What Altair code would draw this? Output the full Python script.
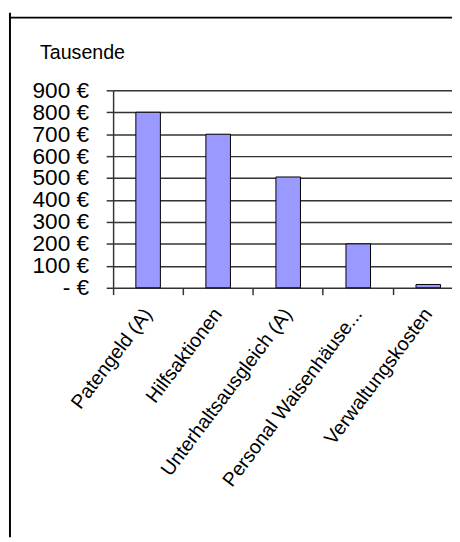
import altair as alt
import pandas as pd

categories = ["Patengeld (A)", "Hilfsaktionen", "Unterhaltsausgleich (A)",
              "Personal Waisenhäuse...", "Verwaltungskosten"]
values = [800, 700, 505, 200, 15]
y_ticks = [0, 100, 200, 300, 400, 500, 600, 700, 800, 900]

df = pd.DataFrame({"Kategorie": categories, "Wert": values})

FONT = "Liberation Sans"
LINE = "#333333"

bars = alt.Chart(df).mark_bar(size=25, fill="#9999FF", stroke="black", strokeWidth=1).encode(
    x=alt.X("Kategorie:N", sort=categories,
            scale=alt.Scale(range=[0, 356.5], paddingInner=0, paddingOuter=0),
            axis=alt.Axis(title=None, bandPosition=0, labelAngle=-53,
                          labelAlign="right", labelBaseline="middle", labelPadding=16,
                          tickSize=7, tickColor=LINE, tickWidth=1.5, domain=False, grid=False,
                          labelFont=FONT, labelFontSize=20, labelColor="black",
                          labelLimit=400, labelOverlap=False, labelBound=False)),
    y=alt.Y("Wert:Q", scale=alt.Scale(domain=[0, 900], nice=False, zero=True),
            axis=alt.Axis(values=y_ticks,
                          labelExpr="datum.value == 0 ? '- €' : datum.value + ' €'",
                          labelFont=FONT, labelFontSize=23, labelColor="black",
                          labelPadding=18, labelOverlap=False, labelFlush=False,
                          tickSize=7, tickColor=LINE, tickWidth=1.5,
                          domainColor=LINE, domainWidth=1.5,
                          grid=True, gridColor=LINE, gridWidth=1.5,
                          title="Tausende", titleAngle=0, titleX=-75, titleY=-32,
                          titleAlign="left", titleBaseline="alphabetic",
                          titleFont=FONT, titleFontSize=20, titleFontWeight="normal",
                          titleColor="black"))
)

one = pd.DataFrame({"k": [0]})
vline = alt.Chart(one).mark_rule(color="black", strokeWidth=2).encode(
    x=alt.value(-105), y=alt.value(-79), y2=alt.value(455))
hline = alt.Chart(one).mark_rule(color="black", strokeWidth=2).encode(
    x=alt.value(-105), x2=alt.value(345), y=alt.value(-74))

chart = alt.layer(bars, vline, hline).properties(
    width=345, height=201,
    autosize=alt.AutoSizeParams(type="none"),
    padding={"left": 107, "top": 79, "right": 0, "bottom": 254},
).configure_view(stroke=None)

chart.save("out.html", embed_options={"renderer": "svg", "actions": False})
